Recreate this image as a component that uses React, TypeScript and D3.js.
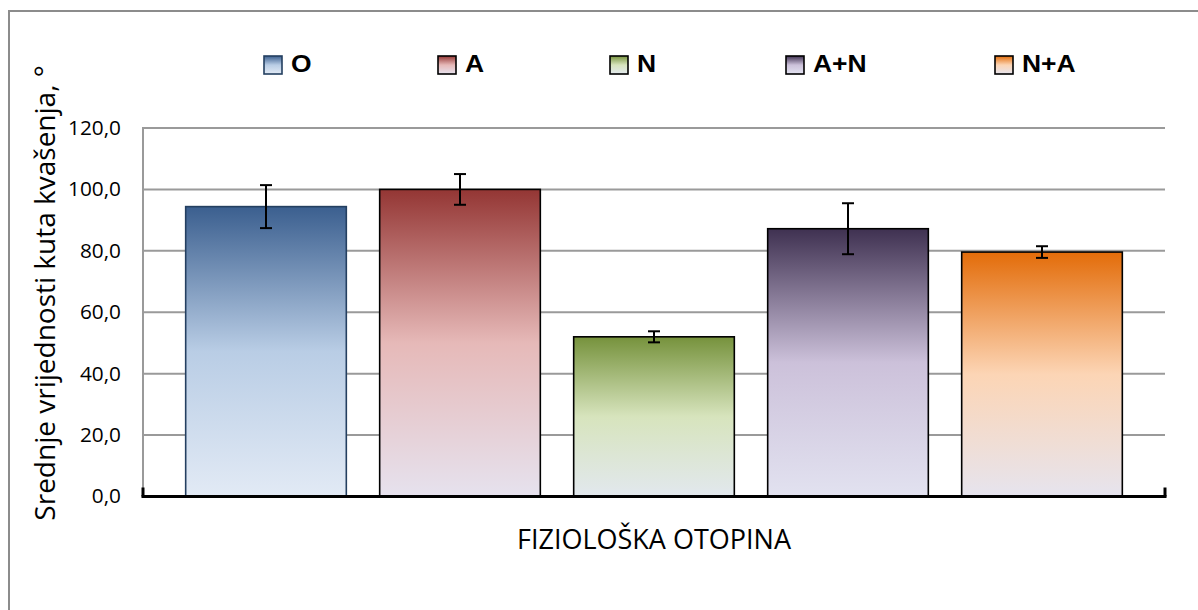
import React from "react";
import * as d3 from "d3";

const series = ["O", "A", "N", "A+N", "N+A"];
const values = [94.4, 100.0, 52.0, 87.2, 79.6];
const errors = [7.0, 5.0, 1.8, 8.3, 1.9];
const yTicks = [0, 20, 40, 60, 80, 100, 120];
const categoryLabel = "FIZIOLOŠKA OTOPINA";
const yTitle = "Srednje vrijednosti kuta kvašenja, °";

const gradStops = [
  ["#3b5f8f", "#b9cde5", "#e2eaf5"],
  ["#943634", "#e6b9b8", "#e6e2ee"],
  ["#76923c", "#d7e4bd", "#e2e8ee"],
  ["#3f3151", "#ccc1da", "#e2e2f0"],
  ["#e36c09", "#fcd5b5", "#e6e4ee"],
];
const strokes = ["#243f60", "#000", "#000", "#000", "#000"];
const legendX = [264, 438, 610, 786, 995];

export default function App() {
  const W = 1198, H = 610;
  const left = 143, right = 1165, top = 128, bottom = 496.5;
  const x = d3.scaleBand<string>().domain(series).range([left, right]).paddingInner(0.172).paddingOuter(0.22);
  const y = d3.scaleLinear().domain([0, 120]).range([bottom, top]);
  const font = "'Open Sans', sans-serif";
  return (
    <svg width={W} height={H} style={{ position: "absolute", left: 0, top: 0, background: "#fff" }}>
      <defs>
        {gradStops.map((g, i) => (
          <linearGradient key={i} id={`g${i}`} x1="0" y1="0" x2="0" y2="1">
            <stop offset="0" stopColor={g[0]} />
            <stop offset="0.5" stopColor={g[1]} />
            <stop offset="1" stopColor={g[2]} />
          </linearGradient>
        ))}
      </defs>
      <rect x={0} y={0} width={W} height={H} fill="#fff" />
      {/* outer border */}
      <path d={`M9,${H + 5} V11 H${W + 5}`} fill="none" stroke="#8c8c8c" strokeWidth={2} />
      {/* gridlines */}
      {yTicks.filter((t) => t > 0).map((t) => (
        <line key={t} x1={left} x2={right} y1={y(t)} y2={y(t)} stroke="#9a9a9a" strokeWidth={2} />
      ))}
      <line x1={left} x2={left} y1={top - 1} y2={bottom} stroke="#9a9a9a" strokeWidth={2} />
      {/* tick labels */}
      {yTicks.map((t) => (
        <text key={t} x={121} y={y(t)} dy="0.35em" textAnchor="end" fontFamily={font} fontSize={20} fill="#000"
          transform={`translate(121,0) scale(1.04,1) translate(-121,0)`}>
          {t.toFixed(1).replace(".", ",")}
        </text>
      ))}
      {/* bars */}
      {series.map((s, i) => (
        <rect key={s} x={x(s)} y={y(values[i])} width={x.bandwidth()} height={bottom - y(values[i])}
          fill={`url(#g${i})`} stroke={strokes[i]} strokeWidth={1.6} />
      ))}
      {/* error bars */}
      {series.map((s, i) => {
        const cx = (x(s) as number) + x.bandwidth() / 2;
        const y1 = y(values[i] + errors[i]);
        const y2 = y(values[i] - errors[i]);
        return (
          <g key={s} stroke="#000" strokeWidth={2}>
            <line x1={cx} x2={cx} y1={y1} y2={y2} />
            <line x1={cx - 6} x2={cx + 6} y1={y1} y2={y1} />
            <line x1={cx - 6} x2={cx + 6} y1={y2} y2={y2} />
          </g>
        );
      })}
      {/* x axis */}
      <line x1={left - 1.5} x2={right + 1.5} y1={bottom} y2={bottom} stroke="#000" strokeWidth={3} />
      <line x1={left} x2={left} y1={bottom} y2={bottom - 9} stroke="#000" strokeWidth={3} />
      <line x1={right} x2={right} y1={bottom} y2={bottom - 9} stroke="#000" strokeWidth={3} />
      {/* category label */}
      <text x={654} y={549} textAnchor="middle" fontFamily={font} fontSize={27} fill="#000">{categoryLabel}</text>
      {/* y title */}
      <text transform="translate(55,293) rotate(-90)" textAnchor="middle" fontFamily={font} fontSize={28} fill="#000">{yTitle}</text>
      {/* legend */}
      {series.map((s, i) => (
        <g key={s}>
          <rect x={legendX[i]} y={56} width={18} height={18} fill={`url(#g${i})`} stroke={strokes[i]} strokeWidth={1.6} />
          <text x={legendX[i] + 27} y={72.5} fontFamily="'Liberation Sans', Arial, sans-serif" fontWeight="bold" fontSize={23}
            fill="#000" transform={`translate(${legendX[i] + 27},0) scale(1.15,1) translate(${-(legendX[i] + 27)},0)`}>{s}</text>
        </g>
      ))}
    </svg>
  );
}
